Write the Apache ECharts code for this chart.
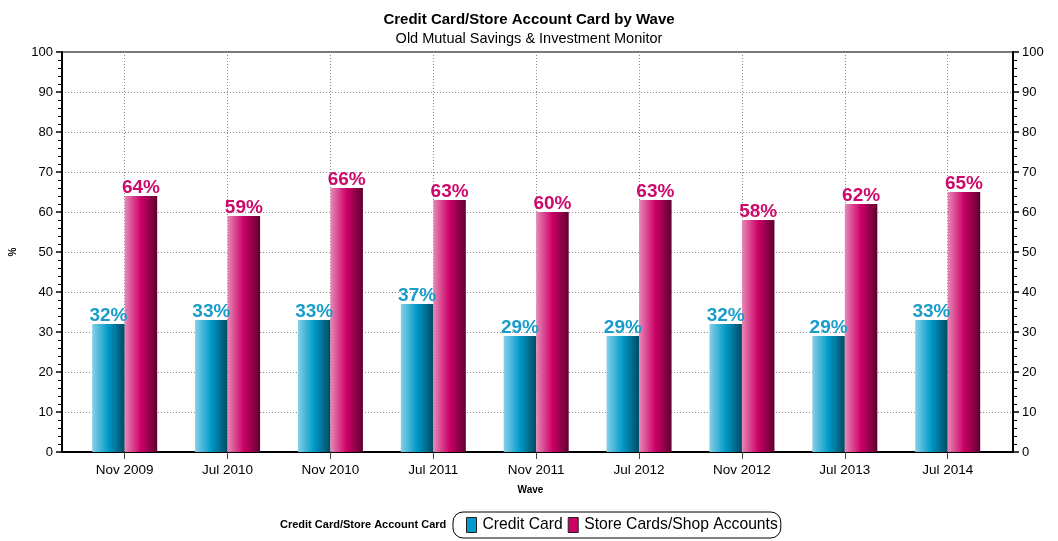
<!DOCTYPE html>
<html>
<head>
<meta charset="utf-8">
<script src="https://cdn.jsdelivr.net/npm/echarts@6/dist/echarts.min.js"></script>
<style>
  html, body { margin: 0; padding: 0; background: #fff; }
  #chart { width: 1058px; height: 541px; }
</style>
</head>
<body>
<div id="chart"></div>
<script>
// Survey waves and share of respondents holding each card type (%)
const waves = ['Nov 2009', 'Jul 2010', 'Nov 2010', 'Jul 2011', 'Nov 2011', 'Jul 2012', 'Nov 2012', 'Jul 2013', 'Jul 2014'];
const creditCard = [32, 33, 33, 37, 29, 29, 32, 29, 33];
const storeCards = [64, 59, 66, 63, 60, 63, 58, 62, 65];
const seriesNames = ['Credit Card', 'Store Cards/Shop Accounts'];

const FONT = 'Liberation Sans, Arial, sans-serif';

function hGrad(stops) {
  return new echarts.graphic.LinearGradient(0, 0, 1, 0,
    stops.map((c, i) => ({ offset: i / (stops.length - 1), color: c })));
}

const chart = echarts.init(document.getElementById('chart'), null, { renderer: 'canvas' });

const dotted = { color: '#8a8a8a', type: [1, 2], width: 1 };

chart.setOption({
  backgroundColor: '#fff',
  animation: false,
  title: {
    text: 'Credit Card/Store Account Card by Wave',
    subtext: 'Old Mutual Savings & Investment Monitor',
    left: 'center',
    top: 7,
    itemGap: 4,
    textStyle: { fontFamily: FONT, fontSize: 15, fontWeight: 'bold', color: '#000' },
    subtextStyle: { fontFamily: FONT, fontSize: 14.5, color: '#000' }
  },
  legend: {
    left: 453,
    top: 512,
    padding: [5, 3, 5, 13],
    borderColor: '#000',
    borderWidth: 1,
    borderRadius: 10,
    itemWidth: 10,
    itemHeight: 15,
    itemGap: 5,
    textStyle: { fontFamily: FONT, fontSize: 15.7, color: '#000', padding: [0, 0, 0, 1] },
    data: [
      { name: seriesNames[0], icon: 'rect', itemStyle: { color: '#0099cc', borderColor: '#222', borderWidth: 1 } },
      { name: seriesNames[1], icon: 'rect', itemStyle: { color: '#cc0066', borderColor: '#222', borderWidth: 1 } }
    ]
  },
  graphic: [{
    type: 'text',
    left: 280,
    top: 519,
    style: { text: 'Credit Card/Store Account Card', font: 'bold 11px ' + FONT, fill: '#000' }
  }],
  grid: [
    // frame, value scales and horizontal rules
    { left: 60, right: 45, top: 52, bottom: 89, show: true, borderColor: '#777', borderWidth: 2, backgroundColor: 'transparent' },
    // category positions for the bars
    { left: 124.7, right: 110.3, top: 52, bottom: 89 }
  ],
  xAxis: [
    {
      gridIndex: 0, type: 'value', min: 0, max: 1,
      name: 'Wave', nameLocation: 'middle', nameGap: 33,
      nameTextStyle: { fontFamily: FONT, fontSize: 10, fontWeight: 'bold', color: '#000', padding: [0, 14, 0, 0] },
      axisLine: { show: true, onZero: false, lineStyle: { color: '#000', width: 2 } },
      axisTick: { show: false }, axisLabel: { show: false }, splitLine: { show: false }
    },
    {
      gridIndex: 1, type: 'category', data: waves, boundaryGap: false,
      axisLine: { show: false },
      axisTick: { show: true, length: 7, lineStyle: { color: '#444', width: 1 } },
      axisLabel: { margin: 11, fontFamily: FONT, fontSize: 13.5, color: '#000' },
      splitLine: { show: true, lineStyle: dotted }
    }
  ],
  yAxis: [
    {
      gridIndex: 0, type: 'value', min: 0, max: 100, interval: 10, position: 'left',
      name: '%', nameLocation: 'middle', nameGap: 44, nameRotate: 90,
      nameTextStyle: { fontFamily: FONT, fontSize: 10, fontWeight: 'bold', color: '#000' },
      axisLine: { show: true, lineStyle: { color: '#000', width: 2 } },
      axisTick: { show: true, length: 6, lineStyle: { color: '#000', width: 1.5 } },
      minorTick: { show: true, splitNumber: 5, length: 4, lineStyle: { color: '#000', width: 1 } },
      axisLabel: { margin: 9, fontFamily: FONT, fontSize: 13, color: '#000' },
      splitLine: { show: true, lineStyle: dotted }
    },
    {
      gridIndex: 0, type: 'value', min: 0, max: 100, interval: 10, position: 'right',
      axisLine: { show: true, lineStyle: { color: '#000', width: 2 } },
      axisTick: { show: true, length: 6, lineStyle: { color: '#000', width: 1.5 } },
      minorTick: { show: true, splitNumber: 5, length: 4, lineStyle: { color: '#000', width: 1 } },
      axisLabel: { margin: 9, fontFamily: FONT, fontSize: 13, color: '#000' },
      splitLine: { show: false }
    },
    {
      gridIndex: 1, type: 'value', min: 0, max: 100, show: false,
      splitLine: { show: false }
    }
  ],
  series: [
    {
      name: seriesNames[0], type: 'bar', xAxisIndex: 1, yAxisIndex: 2,
      data: creditCard, barWidth: 32.5, barGap: '0%', clip: false,
      itemStyle: { color: hGrad(['#86d0e8', '#0099c8', '#004a62']) },
      label: {
        show: true, position: 'top', distance: -1, formatter: '{c}%',
        fontFamily: FONT, fontSize: 19, fontWeight: 'bold', color: '#1a9cca'
      }
    },
    {
      name: seriesNames[1], type: 'bar', xAxisIndex: 1, yAxisIndex: 2,
      data: storeCards, barWidth: 32.5, barGap: '0%', clip: false,
      itemStyle: { color: hGrad(['#e689b7', '#cc0066', '#5e0030']) },
      label: {
        show: true, position: 'top', distance: -1, formatter: '{c}%',
        fontFamily: FONT, fontSize: 19, fontWeight: 'bold', color: '#cc0a6c'
      }
    }
  ]
});
</script>
</body>
</html>
